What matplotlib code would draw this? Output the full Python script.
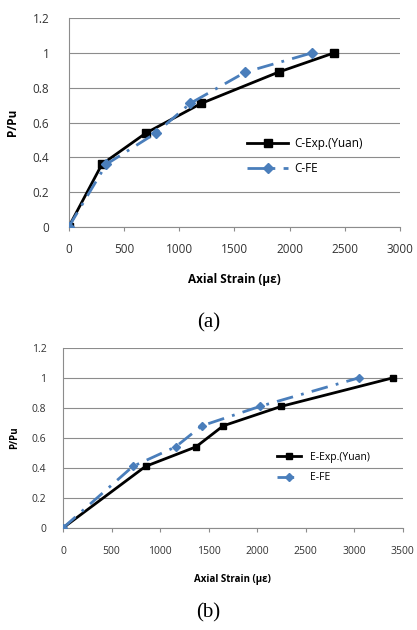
import matplotlib.pyplot as plt

# data
c_exp_x = [0, 300, 700, 1200, 1900, 2400]
c_exp_y = [0, 0.36, 0.54, 0.71, 0.89, 1.0]
c_fe_x = [0, 340, 790, 1100, 1600, 2200]
c_fe_y = [0, 0.36, 0.54, 0.71, 0.89, 1.0]

e_exp_x = [0, 850, 1370, 1650, 2250, 3400]
e_exp_y = [0, 0.41, 0.54, 0.68, 0.81, 1.0]
e_fe_x = [0, 720, 1160, 1430, 2030, 3050]
e_fe_y = [0, 0.41, 0.54, 0.68, 0.81, 1.0]

plt.rcParams['font.family'] = ['Open Sans', 'DejaVu Sans']
blue = '#4a7ebb'

fig = plt.figure(figsize=(4.17, 6.3), dpi=100)
ax1 = fig.add_axes([0.165, 0.640, 0.794, 0.331])
ax2 = fig.add_axes([0.151, 0.162, 0.815, 0.286])


def style(ax, xmax, xstep, fs, ypad, xpad):
    ax.set_xlim(0, xmax)
    ax.set_ylim(0, 1.2)
    ax.set_xticks(range(0, xmax + 1, xstep))
    ax.set_yticks([0, 0.2, 0.4, 0.6, 0.8, 1, 1.2])
    ax.set_yticklabels(['0', '0.2', '0.4', '0.6', '0.8', '1', '1.2'])
    ax.grid(axis='y', color='#8c8c8c', lw=0.8)
    ax.set_axisbelow(True)
    for s in ['top', 'right']:
        ax.spines[s].set_visible(False)
    for s in ['left', 'bottom']:
        ax.spines[s].set_color('#8c8c8c')
    ax.tick_params(axis='both', labelsize=fs, color='#8c8c8c', length=3, colors='#333333')
    ax.tick_params(axis='y', length=0, pad=ypad)
    ax.tick_params(axis='x', pad=xpad)


style(ax1, 3000, 500, 8.5, 14, 9)
ax1.plot(c_exp_x, c_exp_y, color='black', lw=2, marker='s', ms=6, label='C-Exp.(Yuan)', zorder=3)
ax1.plot(c_fe_x, c_fe_y, color=blue, lw=2, ls=(0, (6, 3, 1, 3)), marker='D', ms=5, label='C-FE', zorder=4)
ax1.set_xlabel('Axial Strain (\u03bc\u03b5)', fontsize=8.5, fontweight='bold', labelpad=12)
ax1.set_ylabel('P/Pu', fontsize=8.5, fontweight='bold', labelpad=10)
ax1.legend(loc='center right', bbox_to_anchor=(0.92, 0.34), frameon=False, fontsize=8.5,
           handlelength=3.5, handletextpad=0.5, labelspacing=1.0)

style(ax2, 3500, 500, 7.5, 12, 10)
ax2.plot(e_exp_x, e_exp_y, color='black', lw=2, marker='s', ms=5, label='E-Exp.(Yuan)', zorder=3)
ax2.plot(e_fe_x, e_fe_y, color=blue, lw=2, ls=(0, (6, 3, 1, 3)), marker='D', ms=4, label='E-FE', zorder=4)
ax2.set_xlabel('Axial Strain (\u03bc\u03b5)', fontsize=7, fontweight='bold', labelpad=12)
ax2.set_ylabel('P/Pu', fontsize=7, fontweight='bold', labelpad=8)
ax2.legend(loc='center right', bbox_to_anchor=(0.93, 0.335), frameon=False, fontsize=7.5,
           handlelength=2.3, labelspacing=0.9)

fig.text(0.5, 0.488, '(a)', ha='center', va='center', fontsize=15, family='Liberation Serif')
fig.text(0.5, 0.027, '(b)', ha='center', va='center', fontsize=15, family='Liberation Serif')

fig.savefig('out.png', dpi=100)
